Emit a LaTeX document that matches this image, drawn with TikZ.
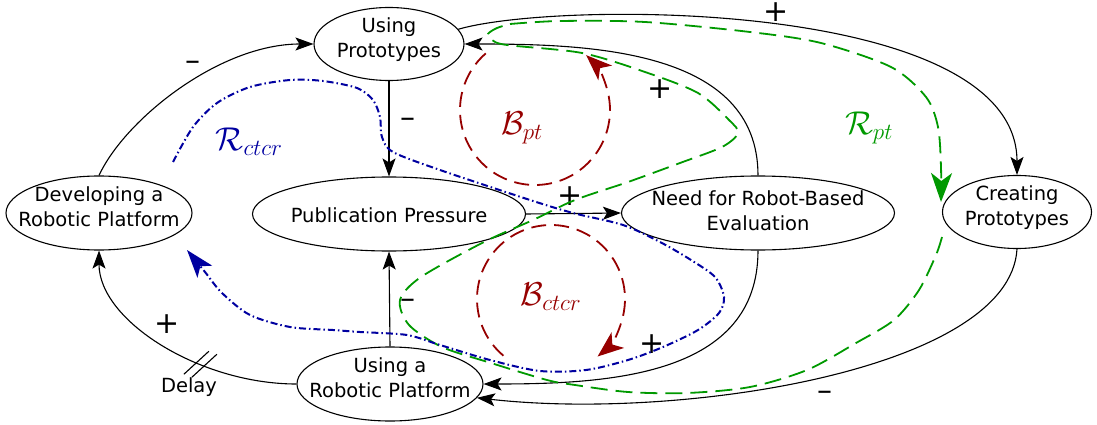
\RequirePackage{fix-cm}
\documentclass[tikz,border=0pt]{standalone}
\usepackage{fontspec}
\setmainfont{DejaVu Sans}
\usetikzlibrary{arrows.meta,shapes.geometric}
\definecolor{loopred}{RGB}{150,0,0}
\definecolor{loopgreen}{RGB}{0,153,0}
\definecolor{loopblue}{RGB}{0,0,160}
\newcommand\oneline[1]{\makebox[0pt]{\smash{\raisebox{-8pt}{#1}}}}
\newcommand\twolines[3][13.5pt]{\makebox[0pt]{\smash{\raisebox{-#1}{\begin{tabular}[b]{@{}c@{}}#2\\#3\end{tabular}}}}}
\newcommand\plussign{\smash{\raisebox{-0.31em}{+}}}
\newcommand\minussign{\smash{\raisebox{-0.27em}{–}}}
\begin{document}
\begin{tikzpicture}[x=1pt,y=1pt,
  every node/.style={font=\fontsize{19.5}{25}\selectfont},
  ell/.style={draw, ellipse, inner sep=0pt, line width=1.1pt},
  link/.style={draw, line width=1.1pt, -{Stealth[length=18pt,width=13pt,inset=4pt]}},
  sign/.style={font=\fontsize{30}{31}\selectfont, inner sep=0pt},
  redloop/.style={draw=loopred, line width=1.8pt, dash pattern=on 15pt off 8pt,
     -{Stealth[length=26pt,width=20pt,inset=7pt,fill=loopred]}},
  greenloop/.style={draw=loopgreen, line width=1.8pt, dash pattern=on 17pt off 8pt},
  greenarrow/.style={-{Stealth[length=29pt,width=21pt,inset=8pt,fill=loopgreen]}},
  blueloop/.style={draw=loopblue, line width=2pt, dash pattern=on 7pt off 3pt on 1.5pt off 3pt,
     -{Stealth[length=28pt,width=19pt,inset=7pt,fill=loopblue]}},
  looplabel/.style={font=\fontsize{33}{37}\selectfont, inner sep=0pt}
]
\useasboundingbox (0,0) rectangle (1097,-425);

% nodes
\node[ell, minimum width=150, minimum height=73] (up)  at (389,-44)  {\twolines{Using}{Prototypes}};
\node[ell, minimum width=186, minimum height=74] (drp) at (99,-213)  {\twolines{Developing a}{Robotic Platform}};
\node[ell, minimum width=273, minimum height=74] (pp)  at (389,-214) {\oneline{Publication Pressure}};
\node[ell, minimum width=273, minimum height=74] (nre) at (758,-213) {\twolines[17pt]{Need for Robot-Based}{Evaluation}};
\node[ell, minimum width=149, minimum height=73] (cp)  at (1017,-212) {\twolines{Creating}{Prototypes}};
\node[ell, minimum width=186, minimum height=74] (urp) at (390,-384) {\twolines{Using a}{Robotic Platform}};

% causal links
\draw[link] (drp.north) .. controls +(26,56) and +(-94,0) .. (up.west);
\draw[link] (up.south) -- (pp.north);
\draw[link] (pp.east) -- (nre.west);
\draw[link] (nre.north) .. controls +(0,126) and +(126,0) .. (up.east);
\draw[link] (up.12) .. controls +(99,29) and +(0,176) .. (cp.north);
\draw[link] (nre.south) .. controls +(0,-125) and +(127,0) .. (urp.east);
\draw[link] (cp.south) .. controls +(-7,-121) and +(203,-23) .. (urp.-9);
\draw[link] (urp.north) -- (pp.south);
\draw[link] (urp.west) .. controls +(-97,0) and +(0,-70) .. coordinate[pos=0.34] (dly) (drp.south);

% delay marks
\draw[line width=1.1pt] ([shift={(-16.5,-10)}]dly) -- ([shift={(8.5,13)}]dly);
\draw[line width=1.1pt] ([shift={(-8.5,-13)}]dly) -- ([shift={(16.5,10)}]dly);
\node (delay) at (189,-387) {Delay};

% polarity signs
\node[sign] (s1) at (193,-62) {\minussign};
\node[sign] (s2) at (408,-119) {\minussign};
\node[sign] (s3) at (570,-196) {\plussign};
\node[sign] (s4) at (660,-89) {\plussign};
\node[sign] (s5) at (776,-12) {\plussign};
\node[sign] (s6) at (652,-344) {\plussign};
\node[sign] (s7) at (825,-392) {\minussign};
\node[sign] (s8) at (408,-300) {\minussign};
\node[sign] (s9) at (167,-324) {\plussign};

% balancing loops
\coordinate (bptc) at (535,-110);
\draw[redloop] (bptc) ++(131:75pt) arc[start angle=131, end angle=407, radius=75pt];
\coordinate (bcc) at (551,-299);
\draw[redloop] (bcc) ++(230:74pt) arc[start angle=230, end angle=-51, radius=74pt];
\node[looplabel, text=loopred] (lbpt) at (522,-128) {$\mathcal{B}_{pt}$};
\node[looplabel, text=loopred] (lbc) at (551,-297) {$\mathcal{B}_{ctcr}$};

% reinforcing loop R_pt
\draw[greenloop, greenarrow] plot[smooth] coordinates {(510,-24) (560,-21) (645,-22) (750,-32) (821,-43) (891,-67) (926,-97) (938,-127) (941,-167) (941,-202)};
\draw[greenloop] plot[smooth] coordinates {(942,-237) (936,-255) (919,-290) (894,-320) (856,-343) (807,-370) (750,-387) (687,-393) (628,-392) (575,-385) (547,-380) (491,-363) (442,-347) (409,-325) (400,-300) (421,-277) (484,-242) (533,-220) (575,-200) (628,-182) (680,-163) (722,-147) (738,-133) (729,-120) (698,-93) (645,-72) (582,-53) (507,-45) (492,-40) (488,-34) (497,-28) (510,-24)};
\node[looplabel, text=loopgreen] (lrpt) at (869,-128) {$\mathcal{R}_{pt}$};

% reinforcing loop R_ctcr
\draw[blueloop] plot[smooth] coordinates {(173,-162) (193,-127) (217,-103) (250,-87) (290,-80) (323,-81) (357,-88) (373,-100) (380,-117) (382,-137) (393,-152) (440,-170) (530,-200) (573,-213) (623,-225) (660,-242) (691,-260) (715,-277) (724,-297) (719,-313) (698,-330) (663,-347) (628,-360) (586,-370) (540,-371) (490,-360) (440,-345) (407,-335) (360,-332) (333,-330) (290,-327) (250,-315) (222,-293) (205,-272) (187,-250)};
\node[looplabel, text=loopblue] (lrc) at (249,-142) {$\mathcal{R}_{ctcr}$};
\end{tikzpicture}
\end{document}
